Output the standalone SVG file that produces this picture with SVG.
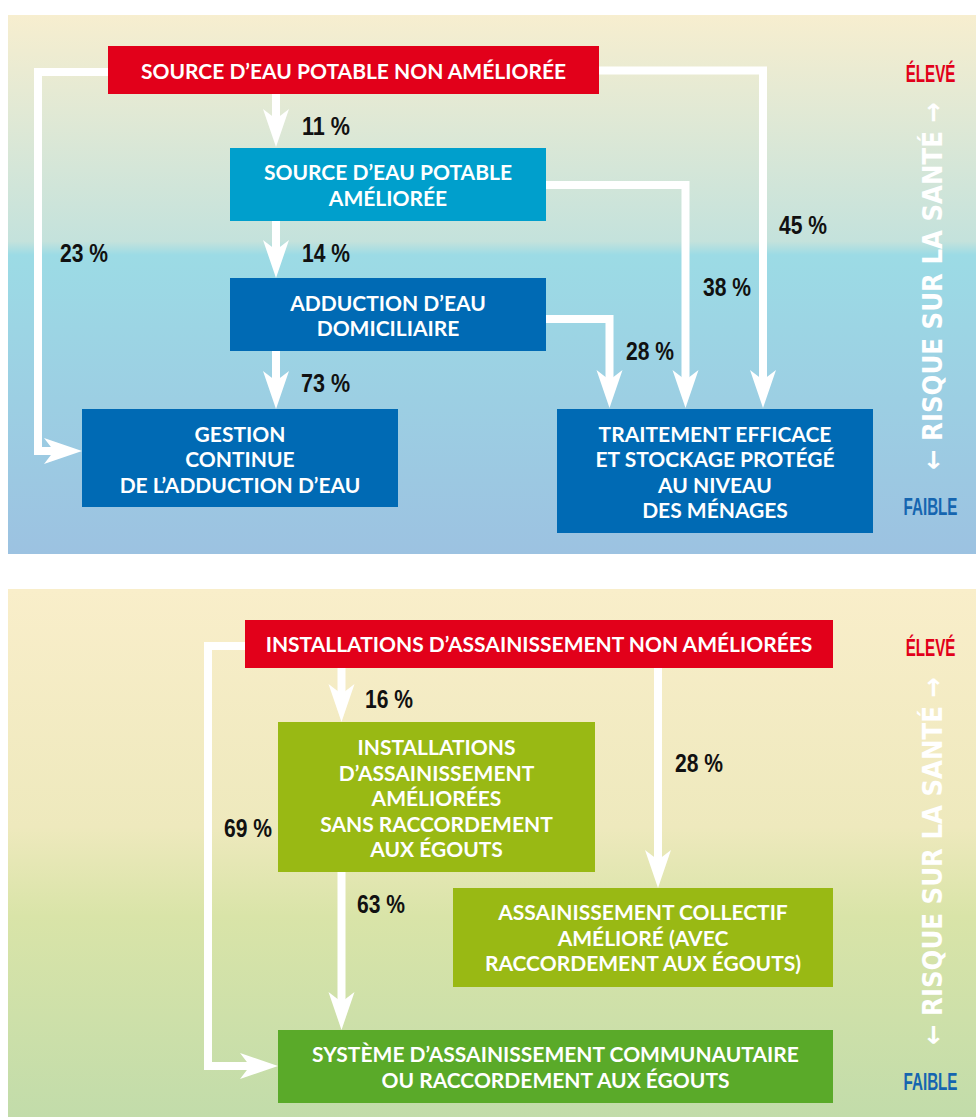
<svg xmlns="http://www.w3.org/2000/svg" width="976" height="1119" viewBox="0 0 976 1119">
<defs>
<linearGradient id="gTop" x1="0" y1="0" x2="0" y2="1">
<stop offset="0" stop-color="#f7eecf"/>
<stop offset="0.42" stop-color="#c4e2dc"/>
<stop offset="0.445" stop-color="#9cdbe5"/>
<stop offset="1" stop-color="#9cc2e1"/>
</linearGradient>
<linearGradient id="gBot" x1="0" y1="0" x2="0" y2="1">
<stop offset="0" stop-color="#f9eeca"/>
<stop offset="0.45" stop-color="#eee9bd"/>
<stop offset="0.62" stop-color="#d9e4a8"/>
<stop offset="1" stop-color="#c2dcaa"/>
</linearGradient>
<marker id="ah" markerUnits="userSpaceOnUse" viewBox="0 -14 38 28" markerWidth="38" markerHeight="28" refX="18" refY="0" orient="auto" overflow="visible">
<path d="M38,0 L0,-13 L10,0 L0,13 Z" fill="#ffffff"/>
</marker>
<style>
.node text{font-family:Lato,"Liberation Sans",sans-serif;font-weight:700;font-size:21px;fill:#ffffff;text-anchor:middle}
.conn path{fill:none;stroke:#ffffff;stroke-width:8;stroke-linejoin:miter;marker-end:url(#ah)}
.pct{font-family:"Liberation Sans",Arial,sans-serif;font-weight:700;font-size:25px;fill:#111111}
.lvl{font-family:"Liberation Sans",Arial,sans-serif;font-weight:700;font-size:23px;text-anchor:middle}
.risk{font-family:"DejaVu Sans",sans-serif;font-weight:700;font-size:27px;fill:#ffffff;text-anchor:middle}
</style>
</defs>

<rect x="8" y="15" width="968" height="539" fill="url(#gTop)"/>
<rect x="8" y="589" width="968" height="528" fill="url(#gBot)"/>

<g class="conn">
<path d="M276,93 V127"/>
<path d="M276,221 V258"/>
<path d="M276,351 V389"/>
<path d="M108,72 H38 V451 H62"/>
<path d="M599,70.5 H763 V388"/>
<path d="M546,185 H685.5 V388"/>
<path d="M546,319 H609.5 V388"/>
<path d="M341.5,668 V702"/>
<path d="M658,668 V868"/>
<path d="M341.5,872 V1010"/>
<path d="M245,646 H208 V1066 H258"/>
</g>

<g id="n-source-non" class="node">
<rect x="108" y="46" width="491" height="48" fill="#e2001a"/>
<text x="353.5" y="79">SOURCE D’EAU POTABLE NON AMÉLIORÉE</text>
</g>
<g id="n-source-amelioree" class="node">
<rect x="230" y="148" width="316" height="73" fill="#009fcc"/>
<text x="388" y="180">SOURCE D’EAU POTABLE</text>
<text x="388" y="206">AMÉLIORÉE</text>
</g>
<g id="n-adduction" class="node">
<rect x="230" y="278" width="316" height="73" fill="#006ab4"/>
<text x="388" y="310.5">ADDUCTION D’EAU</text>
<text x="388" y="336">DOMICILIAIRE</text>
</g>
<g id="n-gestion" class="node">
<rect x="82" y="409" width="316" height="98" fill="#006ab4"/>
<text x="240" y="441.5">GESTION</text>
<text x="240" y="467">CONTINUE</text>
<text x="240" y="492.5">DE L’ADDUCTION D’EAU</text>
</g>
<g id="n-traitement" class="node">
<rect x="557" y="409" width="316" height="124" fill="#006ab4"/>
<text x="715" y="441.5">TRAITEMENT EFFICACE</text>
<text x="715" y="467">ET STOCKAGE PROTÉGÉ</text>
<text x="715" y="492.5">AU NIVEAU</text>
<text x="715" y="518">DES MÉNAGES</text>
</g>

<g id="n-assain-non" class="node">
<rect x="245" y="620" width="588" height="48" fill="#e2001a"/>
<text x="539" y="652">INSTALLATIONS D’ASSAINISSEMENT NON AMÉLIORÉES</text>
</g>
<g id="n-assain-ameliorees" class="node">
<rect x="278" y="722" width="317" height="150" fill="#99b914"/>
<text x="436.5" y="755">INSTALLATIONS</text>
<text x="436.5" y="780.5">D’ASSAINISSEMENT</text>
<text x="436.5" y="806">AMÉLIORÉES</text>
<text x="436.5" y="831.5">SANS RACCORDEMENT</text>
<text x="436.5" y="857">AUX ÉGOUTS</text>
</g>
<g id="n-collectif" class="node">
<rect x="453" y="888" width="380" height="99" fill="#99b914"/>
<text x="643" y="920">ASSAINISSEMENT COLLECTIF</text>
<text x="643" y="945.5">AMÉLIORÉ (AVEC</text>
<text x="643" y="971">RACCORDEMENT AUX ÉGOUTS)</text>
</g>
<g id="n-communautaire" class="node">
<rect x="278" y="1030" width="555" height="73" fill="#5aaa29"/>
<text x="555.5" y="1062">SYSTÈME D’ASSAINISSEMENT COMMUNAUTAIRE</text>
<text x="555.5" y="1087.5">OU RACCORDEMENT AUX ÉGOUTS</text>
</g>

<g id="labels">
<text class="pct" x="302" y="135" textLength="48" lengthAdjust="spacingAndGlyphs">11 %</text>
<text class="pct" x="302" y="262" textLength="48" lengthAdjust="spacingAndGlyphs">14 %</text>
<text class="pct" x="60" y="262" textLength="48" lengthAdjust="spacingAndGlyphs">23 %</text>
<text class="pct" x="301" y="392" textLength="49" lengthAdjust="spacingAndGlyphs">73 %</text>
<text class="pct" x="626" y="360" textLength="48" lengthAdjust="spacingAndGlyphs">28 %</text>
<text class="pct" x="703" y="296" textLength="48" lengthAdjust="spacingAndGlyphs">38 %</text>
<text class="pct" x="779" y="234" textLength="48" lengthAdjust="spacingAndGlyphs">45 %</text>
<text class="pct" x="365" y="708" textLength="48" lengthAdjust="spacingAndGlyphs">16 %</text>
<text class="pct" x="675" y="772" textLength="48" lengthAdjust="spacingAndGlyphs">28 %</text>
<text class="pct" x="224" y="837" textLength="48" lengthAdjust="spacingAndGlyphs">69 %</text>
<text class="pct" x="357" y="913" textLength="48" lengthAdjust="spacingAndGlyphs">63 %</text>
</g>

<g id="scale-top">
<text class="lvl" transform="translate(930.5,82) scale(0.66,1)" fill="#e2001a">ÉLEVÉ</text>
<text class="lvl" transform="translate(930.5,515) scale(0.66,1)" fill="#1565b0">FAIBLE</text>
<text class="risk" transform="translate(942,286) rotate(-90)" x="0" y="0" textLength="368" lengthAdjust="spacingAndGlyphs">← RISQUE SUR LA SANTÉ →</text>
</g>
<g id="scale-bottom">
<text class="lvl" transform="translate(930.5,656) scale(0.66,1)" fill="#e2001a">ÉLEVÉ</text>
<text class="lvl" transform="translate(930.5,1090) scale(0.66,1)" fill="#1565b0">FAIBLE</text>
<text class="risk" transform="translate(942,861) rotate(-90)" x="0" y="0" textLength="368" lengthAdjust="spacingAndGlyphs">← RISQUE SUR LA SANTÉ →</text>
</g>
</svg>
